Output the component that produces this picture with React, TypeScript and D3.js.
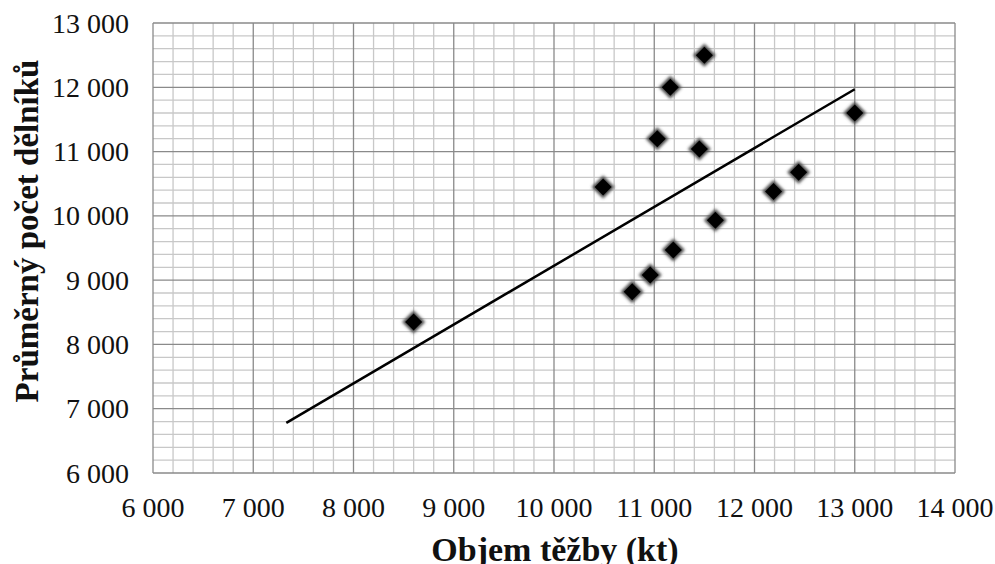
import { useEffect, useRef } from 'react';
import * as d3 from 'd3';

// Objem těžby (kt) vs. průměrný počet dělníků
const objem = [8600, 10490, 11500, 11160, 11030, 11450, 11610, 11190, 10960, 10780, 13000, 12440, 12190];
const delnici = [8350, 10450, 12500, 12000, 11200, 11040, 9930, 9470, 9080, 8820, 11600, 10680, 10380];

// trend line endpoints
const trendX = [7330, 13000];
const trendY = [6780, 11970];

const xTicks = [6000, 7000, 8000, 9000, 10000, 11000, 12000, 13000, 14000];
const yTicks = [6000, 7000, 8000, 9000, 10000, 11000, 12000, 13000];

const W = 995;
const H = 564;

export default function App() {
  const ref = useRef<SVGSVGElement>(null);

  useEffect(() => {
    if (!ref.current) return;
    const svg = d3.select(ref.current);
    svg.selectAll('*').remove();

    const margin = { top: 23, right: 40, bottom: 91, left: 153 };
    const width = W - margin.left - margin.right;
    const height = H - margin.top - margin.bottom;

    const x = d3.scaleLinear().domain([6000, 14000]).range([0, width]);
    const y = d3.scaleLinear().domain([6000, 13000]).range([height, 0]);

    const defs = svg.append('defs');
    defs.append('filter')
      .attr('id', 'soft')
      .attr('x', '-50%').attr('y', '-50%').attr('width', '200%').attr('height', '200%')
      .append('feGaussianBlur')
      .attr('stdDeviation', 1.4);

    const g = svg.append('g').attr('transform', `translate(${margin.left},${margin.top})`);

    // minor grid every 200
    const minorX = d3.range(6200, 14000, 200).filter(v => v % 1000 !== 0);
    const minorY = d3.range(6200, 13000, 200).filter(v => v % 1000 !== 0);

    g.append('g').selectAll('line').data(minorX).enter().append('line')
      .attr('x1', d => x(d)).attr('x2', d => x(d))
      .attr('y1', 0).attr('y2', height)
      .attr('stroke', '#c8c8c8').attr('stroke-width', 1.3);
    g.append('g').selectAll('line').data(minorY).enter().append('line')
      .attr('y1', d => y(d)).attr('y2', d => y(d))
      .attr('x1', 0).attr('x2', width)
      .attr('stroke', '#c8c8c8').attr('stroke-width', 1.3);

    // major grid
    g.append('g').selectAll('line').data(xTicks).enter().append('line')
      .attr('x1', d => x(d)).attr('x2', d => x(d))
      .attr('y1', 0).attr('y2', height)
      .attr('stroke', '#8a8a8a').attr('stroke-width', 1.3);
    g.append('g').selectAll('line').data(yTicks).enter().append('line')
      .attr('y1', d => y(d)).attr('y2', d => y(d))
      .attr('x1', 0).attr('x2', width)
      .attr('stroke', '#8a8a8a').attr('stroke-width', 1.3);

    const fmt = (v: number) => d3.format(',')(v).replace(',', ' ');

    // tick labels
    g.append('g').selectAll('text').data(xTicks).enter().append('text')
      .attr('x', d => x(d)).attr('y', height + 44)
      .attr('text-anchor', 'middle')
      .attr('font-family', '"Liberation Serif", serif')
      .attr('font-size', 28)
      .attr('fill', '#111')
      .text(fmt);

    g.append('g').selectAll('text').data(yTicks).enter().append('text')
      .attr('x', -24).attr('y', d => y(d))
      .attr('dy', '0.34em')
      .attr('text-anchor', 'end')
      .attr('font-family', '"Liberation Serif", serif')
      .attr('font-size', 28)
      .attr('fill', '#111')
      .text(fmt);

    // trend line
    const line = d3.line<number>().x(d => x(trendX[d])).y(d => y(trendY[d]));
    g.append('path')
      .attr('d', line([0, 1]))
      .attr('fill', 'none')
      .attr('stroke', '#000')
      .attr('stroke-width', 2.5);

    // markers
    const pts = objem.map((v, i) => [v, delnici[i]]);
    const diamond = (r: number) => `M0,${-r}L${r},0L0,${r}L${-r},0Z`;

    g.append('g').selectAll('path').data(pts).enter().append('path')
      .attr('transform', d => `translate(${x(d[0])},${y(d[1])})`)
      .attr('d', diamond(11.5))
      .attr('fill', '#4a4a4a')
      .attr('filter', 'url(#soft)');
    g.append('g').selectAll('path').data(pts).enter().append('path')
      .attr('transform', d => `translate(${x(d[0])},${y(d[1])})`)
      .attr('d', diamond(8.5))
      .attr('fill', '#000');

    // axis titles
    svg.append('text')
      .attr('x', 555).attr('y', 561)
      .attr('text-anchor', 'middle')
      .attr('font-family', '"Liberation Serif", serif')
      .attr('font-weight', 'bold')
      .attr('font-size', 34)
      .attr('fill', '#111')
      .text('Objem těžby (kt)');

    svg.append('text')
      .attr('transform', `translate(38,${231}) rotate(-90)`)
      .attr('text-anchor', 'middle')
      .attr('font-family', '"Liberation Serif", serif')
      .attr('font-weight', 'bold')
      .attr('font-size', 33)
      .attr('fill', '#111')
      .text('Průměrný počet dělníků');
  }, []);

  return (
    <div style={{ position: 'absolute', left: 0, top: 0, width: W, height: H, background: '#fff' }}>
      <svg ref={ref} width={W} height={H} />
    </div>
  );
}
